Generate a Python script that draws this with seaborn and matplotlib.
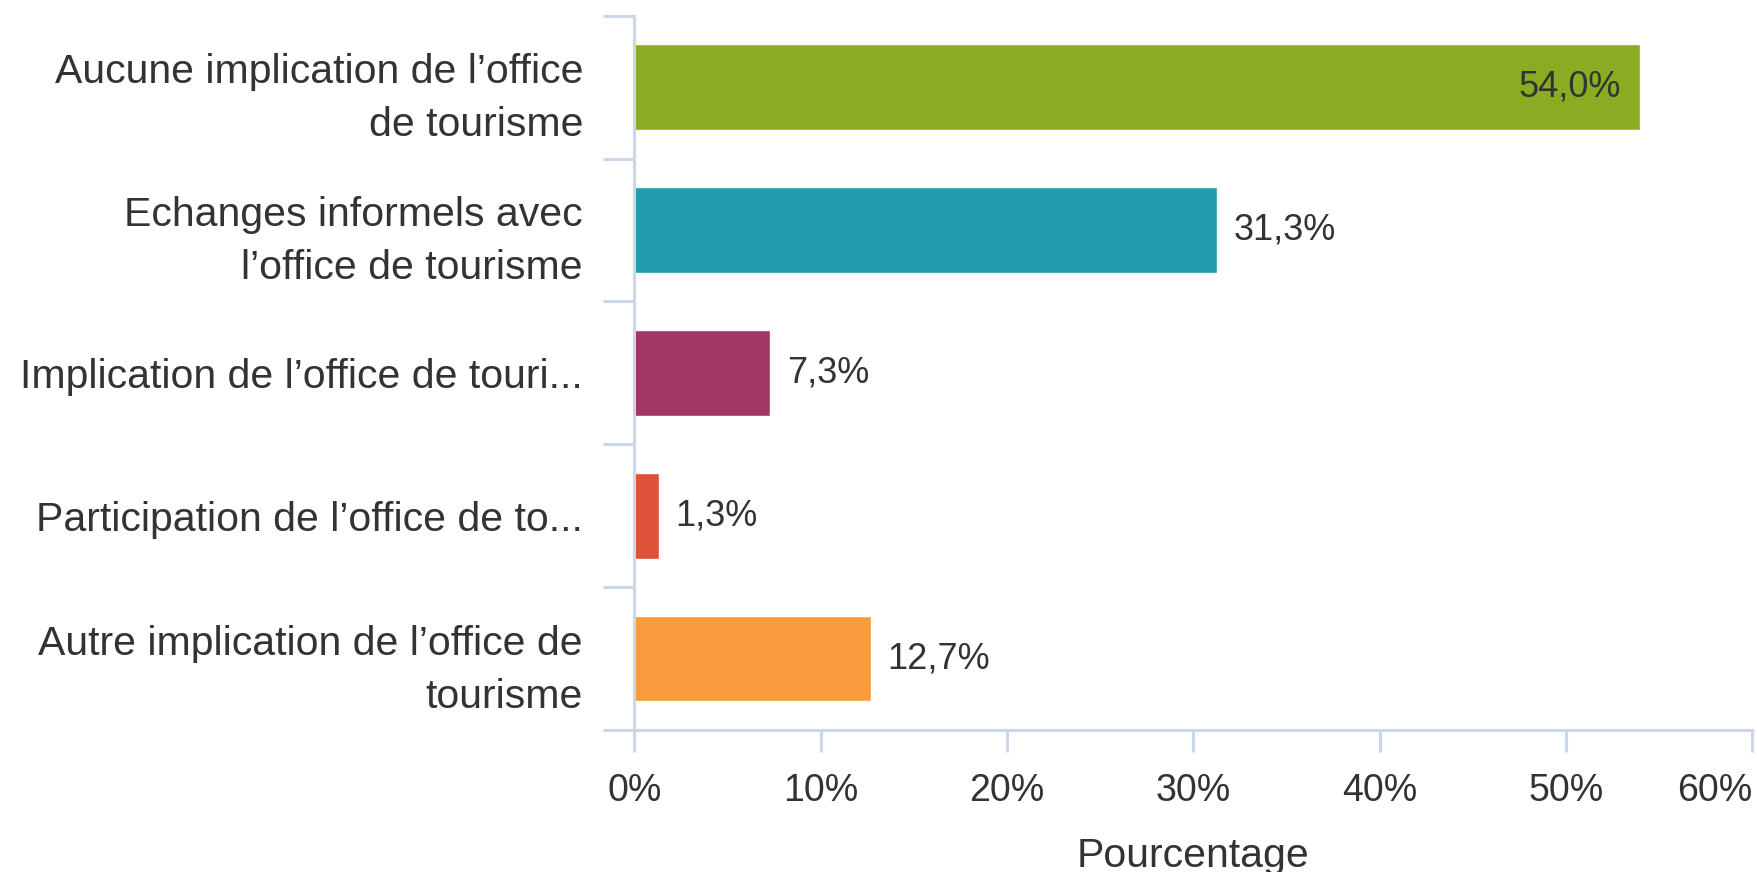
import numpy as np
import pandas as pd
import matplotlib
matplotlib.use("Agg")
import matplotlib.pyplot as plt
import seaborn as sns
from matplotlib.ticker import FixedLocator

categories = [
    "Aucune implication de l\u2019office\nde tourisme",
    "Echanges informels avec\nl\u2019office de tourisme",
    "Implication de l\u2019office de touri...",
    "Participation de l\u2019office de to...",
    "Autre implication de l\u2019office de\ntourisme",
]
values = [54.0, 31.3, 7.3, 1.3, 12.7]
colors = ["#8aac22", "#229cae", "#a23766", "#de5037", "#f89b3c"]
xticks = [0, 10, 20, 30, 40, 50, 60]

axis_color = "#ccd6eb"
text_color = "#333333"

sns.set_theme(style="white")
plt.rcParams["font.family"] = ["Liberation Sans", "DejaVu Sans"]

df = pd.DataFrame({"cat": categories, "val": values})

fig = plt.figure(figsize=(17.58, 8.72), dpi=100)
ax = fig.add_axes([0.3609, 0.1628, 0.9966 - 0.3609, 0.982 - 0.1628])

sns.barplot(data=df, y="cat", x="val", hue="cat", palette=colors,
            order=categories, hue_order=categories, width=0.6,
            dodge=False, legend=False, saturation=1, ax=ax, orient="h")

ax.set_xlim(0, 60)
ax.set_ylim(len(categories) - 0.5, -0.5)

# value labels
for i, cont in enumerate(ax.containers):
    v = values[i]
    lab = f"{v:.1f}%".replace(".", ",")
    if v > 50:
        ax.annotate(lab, xy=(v, i), xytext=(-14, 0), textcoords="offset points",
                    ha="right", va="center", fontsize=26, color=text_color)
    else:
        ax.bar_label(cont, labels=[lab], padding=12, fontsize=26, color=text_color)

for s in ["top", "right"]:
    ax.spines[s].set_visible(False)
for s in ["left", "bottom"]:
    ax.spines[s].set_color(axis_color)
    ax.spines[s].set_linewidth(2.2)

ax.set_xticks(xticks)
ax.set_xticklabels([f"{t}%" for t in xticks])
ax.tick_params(axis="x", direction="out", length=16, width=2.2, color=axis_color,
               labelsize=27, labelcolor=text_color, pad=15, bottom=True)
ax.get_xticklabels()[-1].set_horizontalalignment("right")

ax.yaxis.set_minor_locator(FixedLocator(np.arange(-0.5, len(categories), 1.0)))
ax.tick_params(axis="y", which="minor", direction="out", length=22.3, width=2.2,
               color=axis_color, left=True)
ax.tick_params(axis="y", which="major", length=0, pad=37, labelsize=29.5,
               labelcolor=text_color)
for t in ax.get_yticklabels():
    t.set_linespacing(1.5)

ax.set_ylabel("")
ax.set_xlabel("Pourcentage", fontsize=29.5, color=text_color, labelpad=20)
ax.grid(False)

fig.savefig("out.png", dpi=100)
